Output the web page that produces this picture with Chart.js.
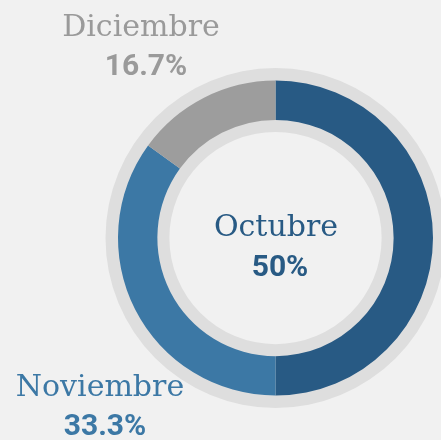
<!DOCTYPE html>
<html>
<head>
<meta charset="utf-8">
<script src="https://cdn.jsdelivr.net/npm/chart.js@4"></script>
<style>
  html, body { margin: 0; padding: 0; background: #f1f1f1; }
  #wrap { position: relative; width: 441px; height: 440px; overflow: hidden; }
  #chart { position: absolute; left: 0; top: 0; }
  .lbl { position: absolute; width: 200px; text-align: center; line-height: 1; white-space: nowrap; }
  .name { font-family: "DejaVu Serif", serif; font-size: 30px; }
  .pct { font-family: Roboto, sans-serif; font-weight: bold; font-size: 30px; }
</style>
</head>
<body>
<div id="wrap">
  <canvas id="chart" width="441" height="440"></canvas>
</div>
<script>
// data
const months = ['Octubre', 'Noviembre', 'Diciembre'];
const shares = [50, 35, 15];           // arc sizes as drawn
const pctLabels = ['50%', '33.3%', '16.7%'];
const colors = ['#285a84', '#3c78a5', '#9d9d9d'];

// where each label sits (centre x, top of name line, top of percent line)
const labelPos = [
    { x: 276, nameTop: 211, pctTop: 251 },
    { x: 100, nameTop: 371, pctTop: 410 },
    { x: 141, nameTop: 11, pctTop: 50 }
];
const textColors = ['#285a84', '#3c78a5', '#9a9a9a'];
const pctShift = [4, 5, 5];

const wrap = document.getElementById('wrap');
months.forEach((m, i) => {
    const p = labelPos[i];
    const n = document.createElement('div');
    n.className = 'lbl name';
    n.textContent = m;
    n.style.left = (p.x - 100) + 'px';
    n.style.top = p.nameTop + 'px';
    n.style.color = textColors[i];
    wrap.appendChild(n);
    const v = document.createElement('div');
    v.className = 'lbl pct';
    v.textContent = pctLabels[i];
    v.style.left = (p.x - 100 + pctShift[i]) + 'px';
    v.style.top = p.pctTop + 'px';
    v.style.color = textColors[i];
    wrap.appendChild(v);
});

// light grey track behind the coloured ring
const trackRing = {
    id: 'trackRing',
    beforeDatasetsDraw(chart) {
        const arc = chart.getDatasetMeta(0).data[0];
        if (!arc) return;
        const ctx = chart.ctx;
        const outer = arc.outerRadius + 12.5;
        const inner = arc.innerRadius - 12;
        ctx.save();
        ctx.beginPath();
        ctx.arc(arc.x, arc.y, outer, 0, Math.PI * 2);
        ctx.arc(arc.x, arc.y, inner, 0, Math.PI * 2, true);
        ctx.fillStyle = '#dedede';
        ctx.fill();
        ctx.restore();
    }
};

new Chart(document.getElementById('chart'), {
    type: 'doughnut',
    data: {
        labels: months,
        datasets: [{
            data: shares,
            backgroundColor: colors,
            borderWidth: 0
        }]
    },
    options: {
        responsive: false,
        animation: false,
        cutout: '75%',
        layout: { padding: { left: 118, right: 8, top: 80.5, bottom: 44.5 } },
        plugins: {
            legend: { display: false },
            tooltip: { enabled: false }
        }
    },
    plugins: [trackRing]
});
</script>
</body>
</html>
